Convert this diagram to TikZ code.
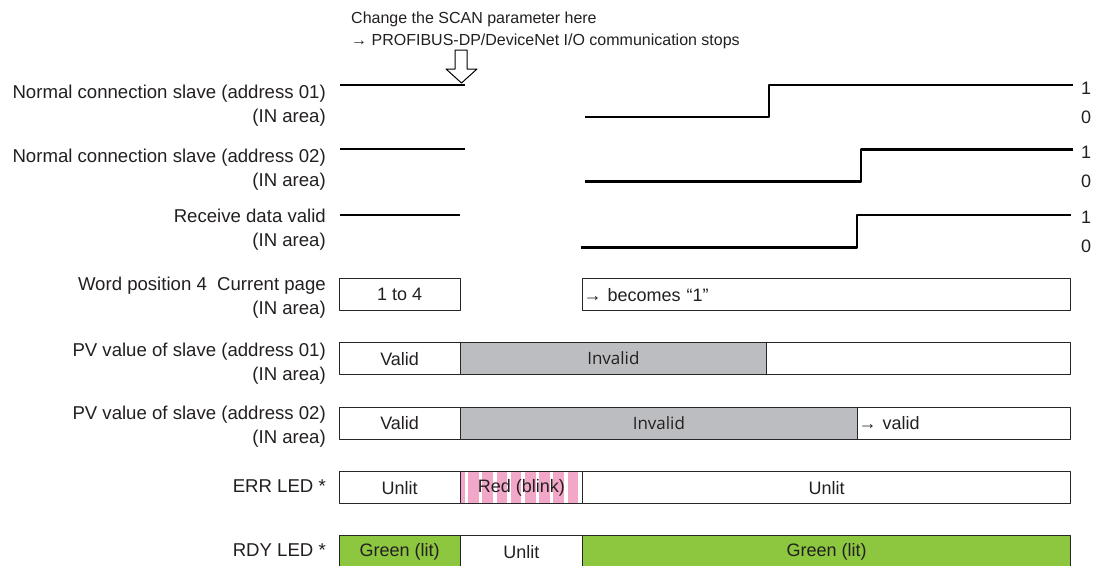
\documentclass[tikz,border=0pt]{standalone}
\usepackage{fontspec}
\setmainfont{Liberation Sans}
\newfontfamily\invfont{Open Sans}
\usepackage{tikz}
\usetikzlibrary{arrows.meta}

\definecolor{invgray}{RGB}{188,189,192}
\definecolor{ledgreen}{RGB}{141,198,63}
\definecolor{ledpink}{RGB}{242,166,200}
\definecolor{txt}{RGB}{35,31,32}

\begin{document}
\begin{tikzpicture}[x=1pt, y=-1pt, line cap=round, line join=round,
  lbl/.style={anchor=east, align=right, inner sep=0pt, text=txt,
    font=\fontsize{18.6}{24}\selectfont},
  lvl/.style={anchor=west, inner sep=0pt, text=txt, font=\fontsize{18}{20}\selectfont},
  wave/.style={line width=2.5pt, line cap=butt},
  cell/.style={draw=black!85, line width=1.2pt, anchor=north west,
    minimum height=32pt, inner sep=0pt, text=txt, font=\fontsize{18}{20}\selectfont},
  inv/.style={cell, fill=invgray, font=\invfont\fontsize{17}{20}\selectfont}]

\clip (0,0) rectangle (1094,565);

% Annotation
\node[anchor=north west, align=left, inner sep=0pt, text=txt, font=\fontsize{16}{22}\selectfont]
  (note) at (351,12) {Change the SCAN parameter here\\→ PROFIBUS-DP/DeviceNet I/O communication stops};
\draw[line width=1pt, fill=white] (455,50) -- (467,50) -- (467,69) -- (477,69) -- (461.5,83)
  -- (446,69) -- (455,69) -- cycle;

% Signal names
\node[lbl] (n1) at (326,105.3) {Normal connection slave (address 01)\\(IN area)};
\node[lbl] (n2) at (326,169.8) {Normal connection slave (address 02)\\(IN area)};
\node[lbl] (n3) at (326,229.8) {Receive data valid\\(IN area)};
\node[lbl] (n4) at (326,297.8) {Word position 4\ \ Current page\\(IN area)};
\node[lbl] (n5) at (326,363.8) {PV value of slave (address 01)\\(IN area)};
\node[lbl] (n6) at (326,426.8) {PV value of slave (address 02)\\(IN area)};
\node[lbl] (n7) at (326,486) {ERR LED *};
\node[lbl] (n8) at (326,550) {RDY LED *};

% Waveforms
\draw[wave] (340,85) -- (465,85);
\draw[wave] (585,117) -- (769,117) -- (769,85) -- (1073,85);
\draw[wave] (340,149) -- (465,149);
\draw[wave] (585,181.5) -- (861,181.5) -- (861,149.5) -- (1073,149.5);
\draw[wave] (340,215) -- (460,215);
\draw[wave] (581,247.5) -- (857,247.5) -- (857,215) -- (1071,215);

% Levels
\node[lvl] (h1) at (1081,88) {1};
\node[lvl] (z1) at (1081,117) {0};
\node[lvl] (h2) at (1081,152) {1};
\node[lvl] (z2) at (1081,181) {0};
\node[lvl] (h3) at (1081,217) {1};
\node[lvl] (z3) at (1081,246) {0};

% Word position 4
\node[cell, minimum width=121pt] (w1) at (338.5,278) {1 to 4};
\node[cell, minimum width=488pt, text width=486pt, inner xsep=1pt, align=left] (w2) at (582,278) {→ becomes “1”};

% PV values
\node[cell, minimum width=121pt] (p1a) at (338.5,342) {Valid};
\node[inv, minimum width=306.5pt] (p1b) at (459.5,342) {Invalid};
\node[cell, minimum width=304pt] (p1c) at (766,342) {};
\node[cell, minimum width=121pt] (p2a) at (338.5,406.5) {Valid};
\node[inv, minimum width=397.5pt] (p2b) at (459.5,406.5) {Invalid};
\node[cell, minimum width=213pt, text width=211pt, inner xsep=1pt, align=left] (p2c) at (857,406.5) {→ valid};

% ERR LED
\node[cell, minimum width=121pt] (e1) at (338.5,471) {Unlit};
\node[cell, minimum width=122.5pt, fill=ledpink,
  path picture={\foreach \k in {0,...,8}
    \fill[white] ([xshift={(4.5+14.2*\k)*1pt}]path picture bounding box.south west) rectangle ++(3.5pt,32pt);}]
  (e2) at (459.5,471) {Red (blink)};
\node[cell, minimum width=488pt] (e3) at (582,471) {Unlit};

% RDY LED
\node[cell, minimum width=121pt, fill=ledgreen] (r1) at (338.5,535) {Green (lit)};
\node[cell, minimum width=122.5pt] (r2) at (459.5,535) {Unlit};
\node[cell, minimum width=488pt, fill=ledgreen] (r3) at (582,535) {Green (lit)};

\end{tikzpicture}
\end{document}
